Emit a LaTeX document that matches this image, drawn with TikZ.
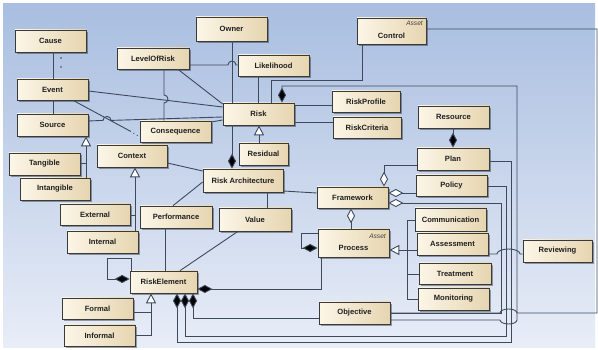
\documentclass[tikz,border=0pt]{standalone}
\usepackage{fontspec}
\setmainfont{Liberation Sans}
\usetikzlibrary{arrows.meta,shadows}
\definecolor{bgT}{HTML}{A9BEE0}
\definecolor{bgB}{HTML}{E8EDF7}
\definecolor{boxL}{HTML}{FCF6E7}
\definecolor{boxR}{HTML}{E6D5B0}
\definecolor{boxB}{HTML}{3A3A3A}
\definecolor{lineC}{HTML}{3D4A5C}
\definecolor{txtC}{HTML}{202020}
\tikzset{
  tipFD/.tip={Diamond[length=15pt,width=8pt,fill=black]},
  tipOD/.tip={Diamond[length=15pt,width=8pt,fill=white]},
  tipGT/.tip={Triangle[length=10pt,width=10pt,fill=white]}
}
\begin{document}
\begin{tikzpicture}[x=1pt,y=-1pt,
  box/.style={draw=boxB, line width=0.7pt, left color=boxL, right color=boxR,
    minimum width=71pt, minimum height=22pt, inner sep=0pt, text=txtC,
    font=\bfseries\fontsize{7.6}{9}\selectfont,
    drop shadow={shadow xshift=1.6pt, shadow yshift=-1.6pt, opacity=0.35, fill=black}},
  lbl/.style={inner sep=0pt, text=txtC, font=\bfseries\fontsize{7.6}{9}\selectfont},
  asset/.style={inner sep=0pt, text=black!75, font=\itshape\fontsize{6.6}{8}\selectfont},
  conn/.style={draw=lineC, line width=0.9pt}
]
% background
\fill[white] (0,0) rectangle (598,350);
\shade[top color=bgT, bottom color=bgB] (3,4) rectangle (595,347);

% nodes
\node[box] (Cause) at (50.5,41) {Cause};
\node[box,minimum height=21pt] (Event) at (52.5,89.5) {Event};
\node[box] (Source) at (52.5,125) {Source};
\node[box] (Tangible) at (44.5,164) {Tangible};
\node[box,minimum width=70pt] (Intangible) at (55,189) {Intangible};
\node[box,minimum width=70pt,minimum height=21pt] (External) at (95,214.5) {External};
\node[box] (Internal) at (102.5,242) {Internal};
\node[box,minimum width=70pt] (Context) at (132,156) {Context};
\node[box,minimum height=21pt] (Consequence) at (175.5,131.5) {Consequence};
\node[box,minimum width=72pt,minimum height=21pt] (LevelOfRisk) at (153,58.5) {LevelOfRisk};
\node[box,minimum height=24pt] (Owner) at (231.5,29) {Owner};
\node[box,minimum height=21pt] (Likelihood) at (273.5,65.5) {Likelihood};
\node[box] (Risk) at (258.5,114) {Risk};
\node[box,minimum width=68pt,minimum height=21pt] (RiskProfile) at (366,101.5) {RiskProfile};
\node[box,minimum width=68pt,minimum height=21pt] (RiskCriteria) at (367,127.5) {RiskCriteria};
\node[box,minimum width=49pt] (Residual) at (263.5,154) {Residual};
\node[box,minimum width=69pt,minimum height=26pt] (Control) at (391.5,31) {};
\node[lbl] (ControlT) at (391.5,36) {Control};
\node[asset,anchor=east] (ControlA) at (423,23.5) {Asset};
\node[box] (Resource) at (453.5,117) {Resource};
\node[box,minimum width=72pt] (Plan) at (453,159) {Plan};
\node[box,minimum height=21pt] (Policy) at (451.5,185.5) {Policy};
\node[box,minimum height=21pt] (Framework) at (352.5,197.5) {Framework};
\node[box,minimum height=28pt] (Process) at (353.5,243) {};
\node[lbl] (ProcessT) at (353.5,248) {Process};
\node[asset,anchor=east] (ProcessA) at (386,236) {Asset};
\node[box,minimum height=23pt] (Communication) at (450.5,219.5) {Communication};
\node[box] (Assessment) at (452.5,244) {Assessment};
\node[box,minimum width=72pt,minimum height=21pt] (Treatment) at (455,273.5) {Treatment};
\node[box] (Monitoring) at (453.5,299) {Monitoring};
\node[box,minimum width=69pt] (Reviewing) at (557.5,251) {Reviewing};
\node[box] (Objective) at (354.5,313) {Objective};
\node[box,minimum width=80pt,minimum height=23pt] (RiskArchitecture) at (243,180.5) {Risk Architecture};
\node[box,minimum width=72pt] (Performance) at (176,217) {Performance};
\node[box,minimum width=72pt,minimum height=23pt] (Value) at (255,219.5) {Value};
\node[box,minimum width=67pt] (RiskElement) at (163.5,282) {RiskElement};
\node[box,minimum height=21pt] (Formal) at (97.5,308.5) {Formal};
\node[box,minimum height=21pt] (Informal) at (99.5,335.5) {Informal};

% connectors: left cluster
\draw[conn] (Cause.south -| 53,0) -- (Event.north -| 53,0);
\fill[lineC] (61,58) circle[radius=0.9pt] (61,67) circle[radius=0.9pt];
\draw[conn] (Event.south -| 53,0) -- (Source.north -| 53,0);
\draw[conn] (Event.east |- 0,91) -- (Risk.west |- 0,107);
\draw[conn] (Source.east |- 0,121) -- (103,120.4) arc[start angle=180,end angle=0,radius=4pt] -- (Risk.west |- 0,117);
\draw[conn] (Event.south -| 73,0) -- (130,131);
\draw[conn,dash pattern=on 1pt off 3pt] (130,131) -- (Consequence.west |- 0,137);
\draw[conn] (LevelOfRisk.south -| 164,0) -- (164,95) arc[start angle=90,end angle=-90,radius=4pt] -- (Consequence.north -| 164,0);
\draw[conn] (LevelOfRisk.south -| 178,0) -- (Risk.west |- 0,104);
\draw[conn] (LevelOfRisk.east |- 0,65) -- (228,65) arc[start angle=180,end angle=0,radius=4pt] -- (Likelihood.west |- 0,65);
\draw[conn] (Owner.south -| 232,0) -- (Risk.north -| 232,0);
\draw[conn] (Likelihood.south -| 258,0) -- (Risk.north -| 258,0);
\draw[conn] (Control.south -| 362,0) -- (362,80) -- (271,80) -- (Risk.north -| 271,0);
\draw[conn] (Risk.east |- 0,105) -- (RiskProfile.west |- 0,105);
\draw[conn] (Risk.east |- 0,122) -- (RiskCriteria.west |- 0,122);
\draw[conn,-{tipGT}] (Residual.north -| 259,0) -- (Risk.south -| 259,0);
\draw[conn,-{tipFD}] (Risk.south -| 232,0) -- (RiskArchitecture.north -| 232,0);
\draw[conn] (Consequence.east |- 0,122) -- (Risk.west |- 0,120);
\draw[conn] (Context.east |- 0,163) -- (RiskArchitecture.west |- 0,171);
\draw[conn,-{tipGT}] (Internal.north -| 135,0) -- (Context.south -| 135,0);
\coordinate (jExt) at (135,215);
\draw[conn] (External.east |- 0,215) -- (jExt);
\draw[conn,-{tipGT}] (Intangible.north -| 86,0) -- (Source.south -| 86,0);
\coordinate (jTan) at (86,163);
\draw[conn] (Tangible.east |- 0,163) -- (jTan);
\draw[conn] (RiskArchitecture.west |- 0,182) -- (Performance.north -| 173,0);
\draw[conn] (RiskArchitecture.south -| 267,0) -- (Value.north -| 267,0);
\draw[conn] (RiskArchitecture.east |- 0,191) -- (Framework.west |- 0,193);
\draw[conn] (Performance.south -| 165,0) -- (RiskElement.north -| 165,0);
\draw[conn] (Value.south -| 238,0) -- (RiskElement.north -| 180,0);
\draw[conn,-{tipFD}] (RiskElement.north -| 131,0) -- (131,258) -- (107,258) -- (107,279) -- (RiskElement.west |- 0,279);
\draw[conn,-{tipGT}] (Informal.east |- 0,335) -- (151,335) -- (RiskElement.south -| 151,0);
\coordinate (jFor) at (151,312);
\draw[conn] (Formal.east |- 0,312) -- (jFor);

% RiskElement compositions
\draw[conn,{tipFD}-] (RiskElement.east |- 0,289) -- (321,289) -- (Process.south -| 321,0);
\draw[conn,{tipFD}-] (RiskElement.south -| 193,0) -- (193,318) -- (Objective.west |- 0,318);
\draw[conn,{tipFD}-] (RiskElement.south -| 185,0) -- (185,336) -- (506,336) -- (506,186) -- (Policy.east |- 0,186);
\draw[conn,{tipFD}-] (RiskElement.south -| 177,0) -- (177,342) -- (511,342) -- (511,161) -- (Plan.east |- 0,161);

% Framework / Process cluster
\draw[conn,{tipOD}-] (Framework.east |- 0,193) -- (Policy.west |- 0,193);
\draw[conn,{tipOD}-] (Framework.east |- 0,203) -- (501,203) -- (501,313) -- (Objective.east |- 0,313);
\draw[conn,{tipOD}-] (Framework.north -| 384,0) -- (384,165) -- (Plan.west |- 0,165);
\draw[conn,{tipOD}-] (Framework.south -| 351,0) -- (Process.north -| 351,0);
\draw[conn,-{tipFD}] (Process.west |- 0,233) -- (301,233) -- (301,248) -- (Process.west |- 0,248);
\draw[conn,-{tipGT}] (Assessment.west |- 0,250) -- (Process.east |- 0,250);
\draw[conn] (Communication.west |- 0,220) -- (407,220) -- (407,299) -- (Monitoring.west |- 0,299);
\coordinate (jTre) at (407,274);
\draw[conn] (Treatment.west |- 0,274) -- (jTre);
\draw[conn,-{tipFD}] (Resource.south -| 453,0) -- (Plan.north -| 453,0);
\draw[conn] (Assessment.east |- 0,254) -- (497,254) arc[start angle=180,end angle=0,x radius=11.5pt,y radius=5pt] -- (Reviewing.west |- 0,254);

% long connectors on the right
\draw[conn,-{tipFD}] (Objective.east |- 0,320) -- (500,320) arc[start angle=180,end angle=360,x radius=8.5pt,y radius=4pt] -- (517,86) -- (282,86) -- (Risk.north -| 282,0);
\draw[conn] (Control.east |- 0,29) -- (597,29) -- (597,313) -- (517,313) arc[start angle=0,end angle=180,x radius=8.5pt,y radius=4pt] -- (Objective.east |- 0,313);
\end{tikzpicture}
\end{document}
